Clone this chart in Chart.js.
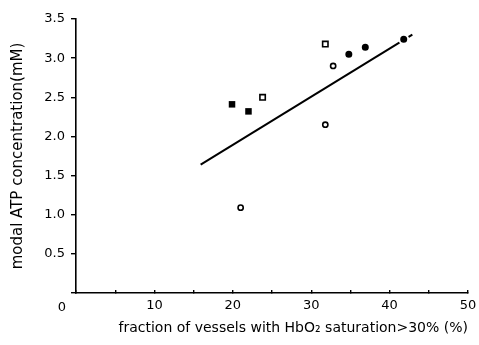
<!DOCTYPE html>
<html>
<head>
    <meta charset="utf-8">
    <title>Modal ATP concentration vs HbO2 saturation</title>
    <script src="https://cdn.jsdelivr.net/npm/chart.js"></script>
    <style>
        body{
            margin: 0;
            background: #fff;
        }
        .box{
            width: 479px;
            height: 345px;
        }
    </style>
</head>
<body>
    <div class="box">
        <canvas id="atpChart"></canvas>
    </div>
    <script>
        // data
        const filledSquareX = [19.9, 22.0];
        const filledSquareY = [2.41, 2.32];
        const openSquareX = [23.8, 31.8];
        const openSquareY = [2.50, 3.18];
        const openCircleX = [21.0, 31.8, 32.8];
        const openCircleY = [1.09, 2.15, 2.90];
        const filledCircleX = [34.8, 36.9, 41.8];
        const filledCircleY = [3.05, 3.14, 3.24];
        const fitLineX = [15.9, 42.9];
        const fitLineY = [1.64, 3.30];

        const xTickLabels = ['10', '20', '30', '40', '50'];
        const yTickLabels = ['0.5', '1.0', '1.5', '2.0', '2.5', '3.0', '3.5'];

        const toPoints = (xs, ys) => xs.map((x, i) => ({x: x, y: ys[i]}));
        const font = 'DejaVu Sans';

        // the lone "0" sits below-left of the origin
        const originLabel = {
            id: 'originLabel',
            afterDraw(chart) {
                const ctx = chart.ctx;
                const x = chart.scales.x.getPixelForValue(0) - 14;
                const y = chart.scales.y.getPixelForValue(0) + 15;
                ctx.save();
                ctx.font = '13px ' + font;
                ctx.fillStyle = '#000';
                ctx.textAlign = 'center';
                ctx.textBaseline = 'middle';
                ctx.fillText('0', x, y);
                ctx.restore();
            }
        };

        const ctx = document.getElementById('atpChart').getContext('2d');
        const atpChart = new Chart(ctx, {
            type: 'scatter',
            data: {
                datasets: [{
                    data: toPoints(fitLineX, fitLineY),
                    showLine: true,
                    borderColor: '#000',
                    borderWidth: 2,
                    pointRadius: 0,
                    order: 10
                }, {
                    data: toPoints(filledSquareX, filledSquareY),
                    pointStyle: 'rect',
                    pointRadius: 4.6,
                    backgroundColor: '#000',
                    borderColor: '#000',
                    borderWidth: 0
                }, {
                    data: toPoints(openSquareX, openSquareY),
                    pointStyle: 'rect',
                    pointRadius: 3.8,
                    backgroundColor: '#fff',
                    borderColor: '#000',
                    borderWidth: 1.6
                }, {
                    data: toPoints(openCircleX, openCircleY),
                    pointStyle: 'circle',
                    pointRadius: 2.6,
                    backgroundColor: '#fff',
                    borderColor: '#000',
                    borderWidth: 1.6
                }, {
                    data: toPoints(filledCircleX, filledCircleY),
                    pointStyle: 'circle',
                    pointRadius: 4.5,
                    backgroundColor: '#000',
                    borderColor: '#fff',
                    borderWidth: 2
                }]
            },
            options: {
                responsive: true,
                maintainAspectRatio: false,
                animation: false,
                events: [],
                layout: {
                    padding: {left: 0, top: 19, right: 11, bottom: 0}
                },
                plugins: {
                    legend: {display: false},
                    tooltip: {enabled: false}
                },
                scales: {
                    x: {
                        type: 'linear',
                        min: 0,
                        max: 50,
                        // fixed height, and let the "50" hang into the right margin
                        afterFit: s => { s.height = 52; s.paddingRight = 0; s.paddingLeft = 0; },
                        border: {color: '#000', width: 1.6},
                        grid: {
                            drawOnChartArea: false,
                            tickLength: -3,
                            color: '#000',
                            lineWidth: 1.4
                        },
                        ticks: {
                            stepSize: 5,
                            padding: 8,
                            maxRotation: 0,
                            color: '#000',
                            font: {family: font, size: 13},
                            callback: v => xTickLabels.includes(String(v)) ? String(v) : ''
                        },
                        title: {
                            display: true,
                            align: 'end',
                            text: 'fraction of vessels with HbO\u2082 saturation>30% (%)',
                            color: '#000',
                            font: {family: font, size: 14},
                            padding: {top: 0, bottom: 8}
                        }
                    },
                    y: {
                        type: 'linear',
                        min: 0,
                        max: 3.5,
                        afterFit: s => { s.width = 76; },
                        border: {color: '#000', width: 1.6},
                        grid: {
                            drawOnChartArea: false,
                            tickLength: 5,
                            color: '#000',
                            lineWidth: 1.4
                        },
                        ticks: {
                            stepSize: 0.5,
                            padding: 6,
                            color: '#000',
                            font: {family: font, size: 13},
                            callback: v => yTickLabels.includes(v.toFixed(1)) ? v.toFixed(1) : ''
                        },
                        title: {
                            display: true,
                            text: 'modal ATP concentration(mM)',
                            color: '#000',
                            font: {family: font, size: 15},
                            padding: {top: 9, bottom: 0}
                        }
                    }
                }
            },
            plugins: [originLabel]
        });
    </script>
</body>
</html>
